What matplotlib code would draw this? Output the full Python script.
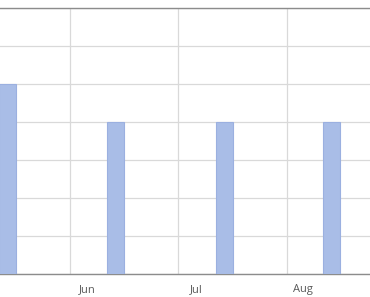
import matplotlib
matplotlib.use("Agg")
import matplotlib.pyplot as plt

# -------- Datos --------
meses = ["May", "Jun", "Jul", "Aug"]
valores = [5, 4, 4, 4]
pos_barras = [-0.58, 0.42, 1.42, 2.41]
etiquetas = ["Jun", "Jul", "Aug"]
pos_etiquetas = [0.155, 1.165, 2.145]
limites_mes = [0, 1, 2]

fig = plt.figure(figsize=(3.7, 2.97), dpi=100)
ax = fig.add_axes([0, 23 / 297, 1, 266.5 / 297])

ax.bar(pos_barras, valores, width=0.157, color="#a9bde7",
       edgecolor="#9bb0e0", linewidth=0.8, zorder=3)

ax.set_xlim(-0.645, 2.765)
ax.set_ylim(0, 7)
ax.set_yticks(range(0, 8))
ax.set_yticklabels([])
ax.tick_params(axis="y", length=0)
ax.grid(axis="y", color="#d9d9d9", linewidth=0.9, zorder=0)
for x in limites_mes:
    ax.axvline(x, color="#d9d9d9", linewidth=0.9, zorder=0)

ax.set_xticks(pos_etiquetas)
ax.set_xticklabels(etiquetas, fontsize=8, color="#595959", family="Open Sans")
ax.tick_params(axis="x", length=0, pad=7.5)

for lado in ["left", "right"]:
    ax.spines[lado].set_visible(False)
for lado in ["top", "bottom"]:
    ax.spines[lado].set_color("#8c8c8c")
    ax.spines[lado].set_linewidth(1.0)

fig.savefig("out.png", dpi=100)
